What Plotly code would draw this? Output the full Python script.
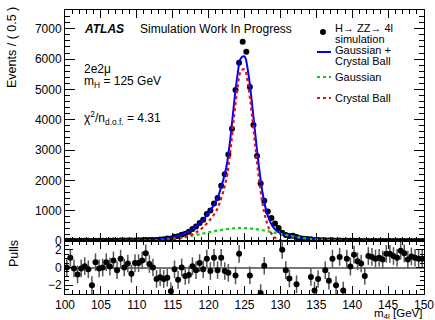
import plotly.graph_objects as go

# ---------------- data ----------------
BIN_CENTERS = [100.25 + 0.5 * i for i in range(100)]   # m4l bin centres (0.5 GeV bins)
CURVE_X = [100.0 + 0.5 * i for i in range(101)]        # sampling points of the fit curves

DATA_EVENTS = [
    6, 9, 5, 4, 6, 7, 6, 3, 9, 8,
    9, 11, 10, 13, 10, 15, 14, 17, 14, 19,
    22, 25, 33, 30, 36, 36, 50, 60, 80, 80,
    138, 155, 210, 240, 305, 395, 475, 590, 700, 890,
    1005, 1240, 1420, 1820, 2200, 2850, 3700, 4980, 5880, 6570,
    6240, 5080, 3830, 2800, 1900, 1330, 970, 760, 580, 430,
    270, 200, 165, 175, 128, 90, 75, 62, 57, 35,
    36, 25, 28, 18, 22, 9, 15, 5, 9, 6,
    7, 5, 4, 2, 3, 3, 3, 3, 3, 4,
    4, 3, 3, 4, 4, 3, 3, 3, 3, 3,
]

PULLS = [
    0.0, 1.1, -0.1, -0.8, -0.1, 0.15, -0.2, -2.0, 0.6, -0.1,
    0.0, 0.6, 0.1, 0.8, -0.3, 1.0, 0.0, 0.45, -0.7, 0.5,
    0.5, 0.8, 1.6, 0.4, 0.0, -1.3, -1.1, -1.3, -1.15, -2.7,
    -0.2, -1.4, 0.0, -0.95, -0.85, 0.15, -0.3, 0.5, -0.2, 1.0,
    -0.4, 1.1, -0.3, 1.1, -0.4, -0.6, None, -0.9, 1.55, None,
    None, -0.9, None, None, -2.9, 0.2, None, None, None, None,
    2.0, -0.3, -1.25, None, -1.9, None, None, None, -1.07, -2.6,
    -1.3, None, -0.3, -1.5, 1.0, -2.0, 1.2, -2.6, 1.0, 0.1,
    1.45, 0.7, 0.45, -0.95, 1.3, 1.2, 1.0, 1.1, 0.9, 1.55,
    1.55, 1.3, 1.1, 1.9, 1.6, 0.9, 1.25, 1.1, 1.0, 1.0,
]

FIT_GAUSS = [
    0, 0, 0, 0, 0, 0, 0, 0, 0, 0, 0, 0, 0, 0,
    1, 1, 2, 3, 4, 5, 7, 9, 12, 15, 20, 25, 32, 40, 49, 60,
    72, 87, 103, 121, 141, 163, 186, 210, 235, 260, 286, 311, 334, 356,
    376, 393, 407, 417, 423, 425, 423, 417, 407, 393, 376, 356, 334, 311,
    286, 260, 235, 210, 186, 163, 141, 121, 103, 87, 72, 60, 49, 40,
    32, 25, 20, 15, 12, 9, 7, 5, 4, 3, 2, 1, 1,
    0, 0, 0, 0, 0, 0, 0, 0, 0, 0, 0, 0, 0, 0, 0, 0,
]

FIT_CB = [
    2, 2, 2, 2, 3, 3, 3, 3, 4, 4, 4, 5, 5, 5, 6, 6, 7, 7, 8, 8,
    9, 10, 11, 13, 16, 19, 23, 28, 35, 43, 54, 68, 87, 113, 148, 192,
    250, 320, 400, 515, 650, 790, 960, 1230, 1600, 2080, 2910, 4016, 4998, 5604,
    5663, 5157, 4230, 3130, 2087, 1253, 700, 360, 170, 70, 25, 8, 3, 1,
    0, 0, 0, 0, 0, 0, 0, 0, 0, 0, 0, 0, 0, 0, 0, 0, 0, 0, 0, 0,
    0, 0, 0, 0, 0, 0, 0, 0, 0, 0, 0, 0, 0, 0, 0, 0, 0,
]

FIT_TOTAL = [
    2, 2, 2, 2, 3, 3, 3, 3, 4, 4, 4, 5, 5, 5, 7, 7, 9, 10, 12, 13,
    16, 19, 23, 28, 36, 44, 55, 68, 84, 103, 126, 155, 190, 234, 289, 355,
    436, 530, 635, 775, 936, 1101, 1294, 1586, 1976, 2473, 3317, 4433, 5421, 6029,
    6086, 5574, 4637, 3523, 2463, 1609, 1034, 671, 456, 330, 260, 218, 189, 164,
    141, 121, 103, 87, 72, 60, 49, 40, 32, 25, 20, 15, 12, 9, 7, 5, 4, 3, 2, 1, 1,
    0, 0, 0, 0, 0, 0, 0, 0, 0, 0, 0, 0, 0, 0, 0, 0,
]

assert len(DATA_EVENTS) == 100 and len(PULLS) == 100, (len(DATA_EVENTS), len(PULLS))
assert len(FIT_GAUSS) == 101 and len(FIT_CB) == 101 and len(FIT_TOTAL) == 101, (
    len(FIT_GAUSS), len(FIT_CB), len(FIT_TOTAL))

# ---------------- figure ----------------
W, H = 435, 320
ML, MR, MT, MB = 65, 11, 10, 26
PW, PH = W - ML - MR, H - MT - MB
SPLIT = (H - MB - 241) / PH  # boundary between main and pull panels


def px(x):
    return (x - ML) / PW


def py(y):
    return (H - MB - y) / PH


FONT = "Liberation Sans, Arial, Helvetica, sans-serif"
BLUE = "#0000ff"
GREEN = "#11cc11"
RED = "#e01010"

fig = go.Figure()
fig.add_trace(go.Scatter(x=BIN_CENTERS, y=DATA_EVENTS, mode="markers",
                         marker=dict(color="black", size=6), xaxis="x", yaxis="y"))
fig.add_trace(go.Scatter(x=CURVE_X, y=FIT_TOTAL, mode="lines",
                         line=dict(color=BLUE, width=2, shape="spline"), xaxis="x", yaxis="y"))
fig.add_trace(go.Scatter(x=CURVE_X, y=FIT_GAUSS, mode="lines",
                         line=dict(color=GREEN, width=2.2, dash="dot", shape="spline"),
                         xaxis="x", yaxis="y"))
fig.add_trace(go.Scatter(x=CURVE_X, y=FIT_CB, mode="lines",
                         line=dict(color=RED, width=2.2, dash="dot", shape="spline"),
                         xaxis="x", yaxis="y"))
fig.add_trace(go.Scatter(x=BIN_CENTERS, y=PULLS, mode="markers",
                         marker=dict(color="black", size=6),
                         error_y=dict(type="constant", value=1, color="#555555",
                                      thickness=1.5, width=0),
                         xaxis="x2", yaxis="y2"))

axis_common = dict(showline=True, linecolor="black", linewidth=1, mirror="allticks",
                   ticks="inside", tickcolor="black", tickwidth=1,
                   showgrid=False, zeroline=False,
                   tickfont=dict(family=FONT, size=12, color="black"))

fig.update_layout(
    width=W, height=H,
    margin=dict(l=ML, r=MR, t=MT, b=MB, autoexpand=False),
    paper_bgcolor="white", plot_bgcolor="white",
    showlegend=False,
    font=dict(family=FONT, color="black"),
    xaxis=dict(axis_common, domain=[0, 1], anchor="y", range=[100, 150],
               tick0=100, dtick=5, ticklen=8, showticklabels=False,
               minor=dict(ticks="inside", ticklen=4, dtick=1, tickcolor="black")),
    yaxis=dict(axis_common, domain=[SPLIT, 1], anchor="x", range=[0, 7620],
               tick0=0, dtick=1000, ticklen=10,
               minor=dict(ticks="inside", ticklen=5, dtick=200, tickcolor="black")),
    xaxis2=dict(axis_common, domain=[0, 1], anchor="y2", range=[100, 150], matches="x",
                tick0=100, dtick=5, ticklen=8, showticklabels=True,
                minor=dict(ticks="inside", ticklen=4, dtick=1, tickcolor="black")),
    yaxis2=dict(axis_common, domain=[0, SPLIT], anchor="x2", range=[-3, 3],
                tick0=0, dtick=2, ticklen=8,
                minor=dict(ticks="inside", ticklen=4, dtick=0.5, tickcolor="black"),
                zeroline=True, zerolinecolor="#777777", zerolinewidth=1.5),
)

ann = []


def text(x, y, s, size=12, anchor="left", angle=0, yanchor="middle"):
    ann.append(dict(x=px(x), y=py(y), xref="paper", yref="paper", text=s,
                    showarrow=False, xanchor=anchor, yanchor=yanchor, textangle=angle,
                    font=dict(family=FONT, size=size, color="black")))


text(82, 29, "<b><i>ATLAS</i></b>", 12)
text(138, 29, "Simulation Work In Progress", 12)
text(82, 69, "2e2μ", 12)
text(82, 82, "m<sub>H</sub> = 125 GeV", 12)
text(82, 118, "χ<sup>2</sup>/n<sub>d.o.f.</sub> = 4.31", 12)

text(333, 28, "H→ ZZ→ 4l", 11)
text(333, 39, "simulation", 11)
text(333, 50, "Gaussian +", 11)
text(333, 61, "Crystal Ball", 11)
text(333, 77, "Gaussian", 11)
text(333, 98, "Crystal Ball", 11)

text(12, 48, "Events / ( 0.5 )", 12.5, anchor="center", angle=-90)
text(14, 254, "Pulls", 12.5, anchor="center", angle=-90)
text(424, 314, "m<sub>4l</sub> [GeV]", 11.5, anchor="right")

fig.update_layout(annotations=ann)

shapes = [
    dict(type="circle", xref="paper", yref="paper",
         x0=px(320), x1=px(326), y0=py(29), y1=py(35),
         fillcolor="black", line=dict(color="black", width=0)),
    dict(type="line", xref="paper", yref="paper", x0=px(317), x1=px(331),
         y0=py(52), y1=py(52), line=dict(color=BLUE, width=2)),
    dict(type="line", xref="paper", yref="paper", x0=px(317), x1=px(331),
         y0=py(77), y1=py(77), line=dict(color=GREEN, width=2.2, dash="dot")),
    dict(type="line", xref="paper", yref="paper", x0=px(317), x1=px(331),
         y0=py(98), y1=py(98), line=dict(color=RED, width=2.2, dash="dot")),
]
fig.update_layout(shapes=shapes)

# remove the browser's default 8px body margin so the figure sits at the window origin
fig.write_html("out.html", config={"displayModeBar": False},
               post_script="document.body.style.margin='0';document.body.style.overflow='hidden';")
